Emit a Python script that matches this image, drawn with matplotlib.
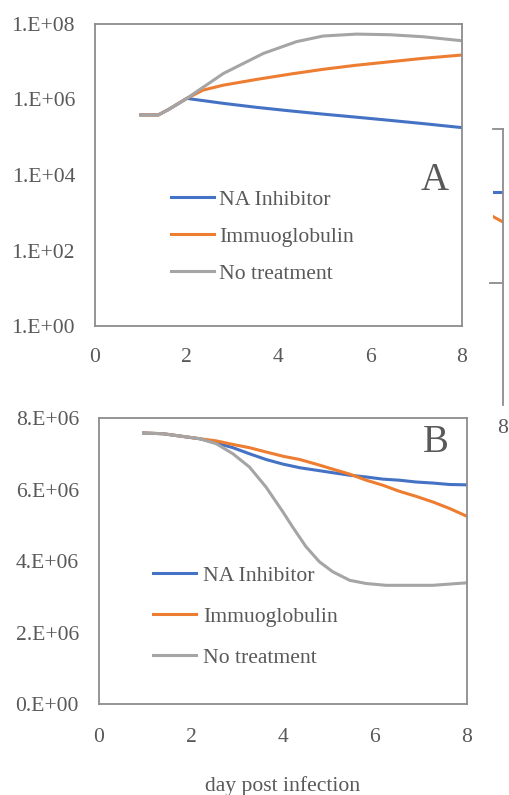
import numpy as np
import matplotlib
matplotlib.use("Agg")
import matplotlib.pyplot as plt

# ---- data ----
labels = ["NA Inhibitor", "Immuoglobulin", "No treatment"]
colors = ["#4472C4", "#ED7D31", "#A5A5A5"]

# panel A: virus titer (log scale)
a_days_gray = [1.0, 1.38, 1.6, 2.0, 2.8, 3.67, 4.39, 4.97, 5.70, 6.42, 7.15, 8.0]
a_gray = [3.9e5, 3.9e5, 5.4e5, 1.07e6, 4.9e6, 1.66e7, 3.4e7, 4.8e7, 5.4e7, 5.2e7, 4.6e7, 3.6e7]
a_days_orange = [1.0, 1.38, 1.6, 2.0, 2.36, 2.8, 3.52, 4.25, 4.97, 5.70, 6.43, 7.15, 8.0]
a_orange = [3.9e5, 3.9e5, 5.4e5, 1.07e6, 1.78e6, 2.4e6, 3.4e6, 4.7e6, 6.3e6, 8.1e6, 1.0e7, 1.23e7, 1.51e7]
a_days_blue = [1.0, 1.38, 1.6, 2.0, 2.8, 3.52, 4.25, 4.97, 5.70, 6.43, 7.15, 8.0]
a_blue = [3.9e5, 3.9e5, 5.4e5, 1.07e6, 7.9e5, 6.2e5, 5.0e5, 4.1e5, 3.4e5, 2.8e5, 2.3e5, 1.8e5]
a_yticks = [1e0, 1e2, 1e4, 1e6, 1e8]
a_yticklabels = ["1.E+00", "1.E+02", "1.E+04", "1.E+06", "1.E+08"]

# panel B: target cells
b_days = [0.97, 1.39, 2.19, 2.55, 2.91, 3.27, 3.63, 4.0, 4.36, 4.72, 5.08, 5.45,
          5.81, 6.17, 6.53, 6.89, 7.26, 7.62, 8.0]
b_blue = [7.58, 7.56, 7.42, 7.30, 7.17, 7.00, 6.84, 6.71, 6.61, 6.54, 6.47, 6.40,
          6.35, 6.29, 6.26, 6.21, 6.18, 6.14, 6.13]
b_orange = [7.58, 7.56, 7.42, 7.36, 7.26, 7.17, 7.05, 6.93, 6.84, 6.71, 6.57, 6.43,
            6.26, 6.12, 5.95, 5.81, 5.65, 5.47, 5.25]
b_days_gray = [0.97, 1.39, 2.19, 2.55, 2.91, 3.27, 3.63, 4.0, 4.21, 4.50, 4.79, 5.08,
               5.45, 5.81, 6.24, 7.26, 8.0]
b_gray = [7.58, 7.56, 7.42, 7.28, 7.00, 6.63, 6.07, 5.37, 4.95, 4.40, 3.98, 3.70,
          3.46, 3.37, 3.32, 3.32, 3.39]
b_yticks = [0, 2e6, 4e6, 6e6, 8e6]
b_yticklabels = ["0.E+00", "2.E+06", "4.E+06", "6.E+06", "8.E+06"]

xticks = [0, 2, 4, 6, 8]

# cut-off edge of a third chart on the right
c_days = [7.7, 8.0]
c_blue = [0.772, 0.772]
c_orange = [0.69, 0.663]

TXT = "#595959"
SPN = "#8c8c8c"
FS = 15.6
LW = 2.2
plt.rcParams["font.family"] = ["Liberation Serif", "DejaVu Serif"]

fig = plt.figure(figsize=(5.1, 7.95), dpi=100)

def style(ax, ypad, xpad):
    for s in ax.spines.values():
        s.set_color(SPN); s.set_linewidth(1.3)
    ax.tick_params(length=0, labelsize=FS, labelcolor=TXT)
    ax.tick_params(axis="y", pad=ypad)
    ax.tick_params(axis="x", pad=xpad)
    ax.set_xlim(0, 8)
    ax.set_xticks(xticks)

# --- panel A ---
axA = fig.add_axes([95/510, 1-326/795, 367/510, 302/795])
axA.plot(a_days_blue, a_blue, color=colors[0], lw=LW, label=labels[0])
axA.plot(a_days_orange, a_orange, color=colors[1], lw=LW, label=labels[1])
axA.plot(a_days_gray, a_gray, color=colors[2], lw=LW, label=labels[2])
axA.set_yscale("log")
axA.set_ylim(1e0, 1e8)
axA.set_yticks(a_yticks)
axA.set_yticklabels(a_yticklabels)
axA.minorticks_off()
style(axA, 14.4, 16)
axA.text(0.926, 0.483, "A", transform=axA.transAxes, fontsize=28, color=TXT,
         ha="center", va="center")
axA.legend(loc="center left", bbox_to_anchor=(0.207, 0.295), frameon=False,
           fontsize=FS, labelcolor=TXT, handlelength=2.0, handletextpad=0.22,
           labelspacing=0.78, borderpad=0, borderaxespad=0)

# --- panel B ---
axB = fig.add_axes([99/510, 1-704/795, 368/510, 286/795])
axB.plot(b_days, np.array(b_blue)*1e6, color=colors[0], lw=LW, label=labels[0])
axB.plot(b_days, np.array(b_orange)*1e6, color=colors[1], lw=LW, label=labels[1])
axB.plot(b_days_gray, np.array(b_gray)*1e6, color=colors[2], lw=LW, label=labels[2])
axB.set_ylim(0, 8e6)
axB.set_yticks(b_yticks)
axB.set_yticklabels(b_yticklabels)
style(axB, 14.4, 17)
axB.set_xlabel("day post infection", fontsize=FS, color=TXT, labelpad=21)
axB.text(0.916, 0.913, "B", transform=axB.transAxes, fontsize=28, color=TXT,
         ha="center", va="center")
axB.legend(loc="center left", bbox_to_anchor=(0.147, 0.305), frameon=False,
           fontsize=FS, labelcolor=TXT, handlelength=2.0, handletextpad=0.3,
           labelspacing=0.96, borderpad=0, borderaxespad=0)

# --- clipped third chart edge ---
axC = fig.add_axes([493/510, 1-405/795, 10/510, 276/795])
axC.plot(c_days, c_blue, color=colors[0], lw=LW)
axC.plot(c_days, c_orange, color=colors[1], lw=LW)
axC.set_xlim(7.78, 8.0)
axC.set_ylim(0, 1)
axC.set_xticks([8])
axC.set_xticklabels(["8"])
axC.set_yticks([0.442])
axC.yaxis.tick_right()
axC.tick_params(axis="y", direction="in", length=10, width=1.3, color=SPN,
                labelright=False)
axC.tick_params(axis="x", length=0, labelsize=FS, labelcolor=TXT, pad=10)
for k in ["left", "bottom"]:
    axC.spines[k].set_visible(False)
for k in ["top", "right"]:
    axC.spines[k].set_color(SPN); axC.spines[k].set_linewidth(1.3)
axC.patch.set_alpha(0)

fig.savefig("out.png", dpi=100)
